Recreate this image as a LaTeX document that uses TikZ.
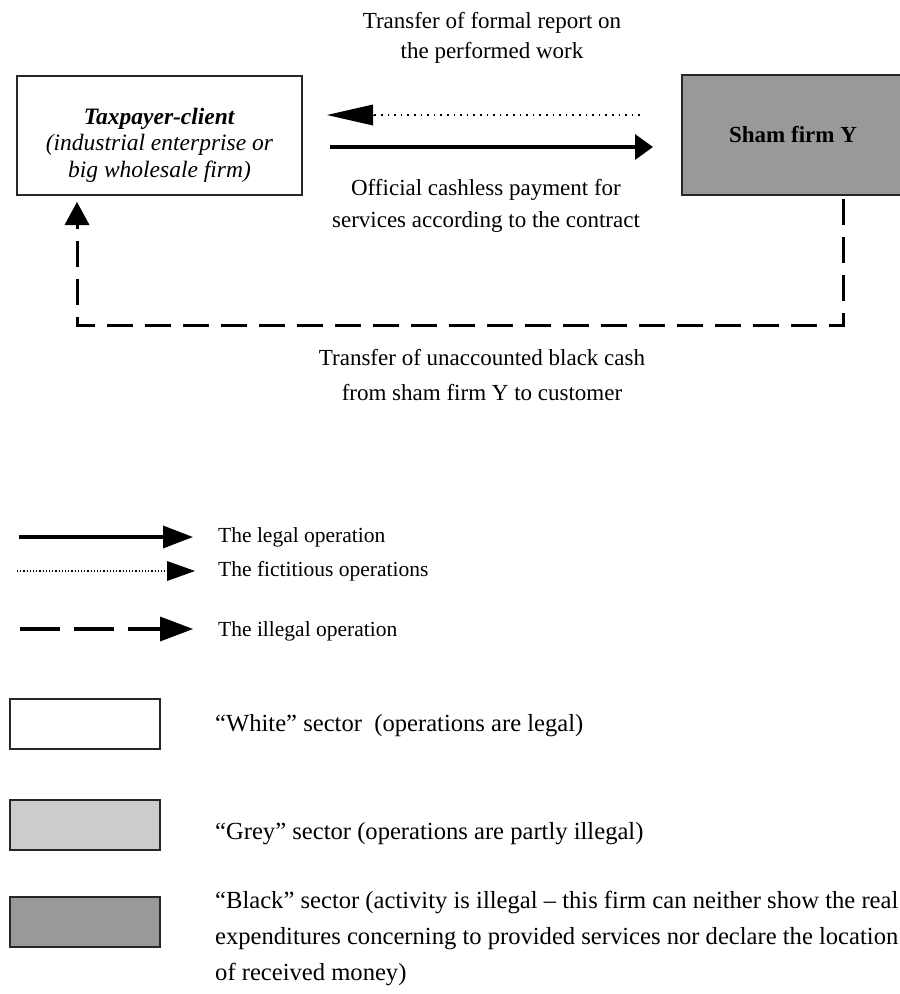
\documentclass[tikz,border=0pt]{standalone}
\usepackage{fontspec}
\setmainfont{Liberation Serif}
\usetikzlibrary{arrows.meta,positioning}

\begin{document}
\begin{tikzpicture}[x=1pt,y=-1pt,
		font=\fontsize{21.5}{31}\selectfont,
		sector/.style={draw=black!85,line width=1.3pt,inner sep=0pt},
		white sector/.style={sector,fill=white},
		grey sector/.style={sector,fill=black!20},
		black sector/.style={sector,fill=black!40},
		legal/.style={line width=3.5pt,-{Triangle[length=18pt,width=25pt]}},
		fictitious/.style={line width=1.6pt,dash pattern=on 1.6pt off 5pt},
		illegal/.style={line width=3pt,dash pattern=on 26pt off 12pt},
		txt/.style={align=center,inner sep=0pt,font=\fontsize{23}{30}\selectfont}]
		\useasboundingbox (0,0) rectangle (900,994);
		%put the two firms on top
		\node[white sector,minimum width=285pt,minimum height=119pt] (client) at (159.5,135.5) {};
		\node[txt,font=\fontsize{23.5}{26.5}\selectfont] at (159.5,145) {\textbf{\textit{Taxpayer-client}}\\\textit{(industrial enterprise or}\\\textit{big wholesale firm)}};
		\node[black sector,minimum width=222pt,minimum height=120pt,font=\fontsize{23}{30}\selectfont] (sham) at (793,135) {\textbf{Sham firm Y}};
		%put the arrows between them
		\coordinate (repS) at (640,115);
		\coordinate (repE) at (327,115);
		\coordinate (payS) at (330,147);
		\coordinate (payE) at (653,147);
		\draw[fictitious] (repS) -- (373,115);
		\draw[line width=0pt,-{Triangle[length=46pt,width=21pt]}] (373,115) -- (repE);
		\draw[legal] (payS) -- (payE);
		\node[txt] (rep) at (492,38) {Transfer of formal report on\\the performed work};
		\node[txt,font=\fontsize{23}{32.5}\selectfont] (pay) at (486,206) {Official cashless payment for\\services according to the contract};
		%put the loop of black cash
		\coordinate (loopA) at (843,199);
		\coordinate (loopB) at (843,325);
		\coordinate (loopC) at (77,325);
		\coordinate (loopD) at (77,202);
		\draw[illegal] (loopA) -- (loopB) -- (loopC) -- (77,225);
		\draw[line width=0pt,-{Triangle[length=23pt,width=25pt]}] (77,225) -- (loopD);
		\node[txt,font=\fontsize{23}{35}\selectfont] (cash) at (482,375) {Transfer of unaccounted black cash\\from sham firm Y to customer};
		%put the legend
		\coordinate (l1) at (19,537);
		\coordinate (l2) at (17,571);
		\coordinate (l3) at (20,629);
		\draw[line width=3.5pt,-{Triangle[length=30pt,width=22pt]}] (l1) -- (193,537);
		\draw[line width=1.2pt,dash pattern=on 1.2pt off 2pt] (l2) -- (167,571);
		\draw[line width=0pt,-{Triangle[length=28pt,width=20pt]}] (167,571) -- (195,571);
		\draw[line width=4pt,dash pattern=on 40pt off 14pt] (l3) -- (160,629);
		\draw[line width=0pt,-{Triangle[length=33pt,width=25pt]}] (160,629) -- (193,629);
		\node[white sector,minimum width=150pt,minimum height=50pt] (ws) at (85,724) {};
		\node[grey sector,minimum width=150pt,minimum height=50pt] (gs) at (85,825) {};
		\node[black sector,minimum width=150pt,minimum height=50pt] (bs) at (85,922) {};
		\node[anchor=west,inner sep=0pt] at (218,537) {The legal operation};
		\node[anchor=west,inner sep=0pt] at (218,571) {The fictitious operations};
		\node[anchor=west,inner sep=0pt] at (218,631) {The illegal operation};
		\begin{scope}[every node/.style={font=\fontsize{24.6}{36}\selectfont}]
		\node[anchor=west,inner sep=0pt] at (215,726) {“White” sector~ (operations are legal)};
		\node[anchor=west,inner sep=0pt] at (215,834) {“Grey” sector (operations are partly illegal)};
		\node[anchor=north west,align=left,inner sep=0pt] at (215,891) {“Black” sector (activity is illegal – this firm can neither show the real\\expenditures concerning to provided services nor declare the location\\of received money)};
		\end{scope}
		\end{tikzpicture}
\end{document}
